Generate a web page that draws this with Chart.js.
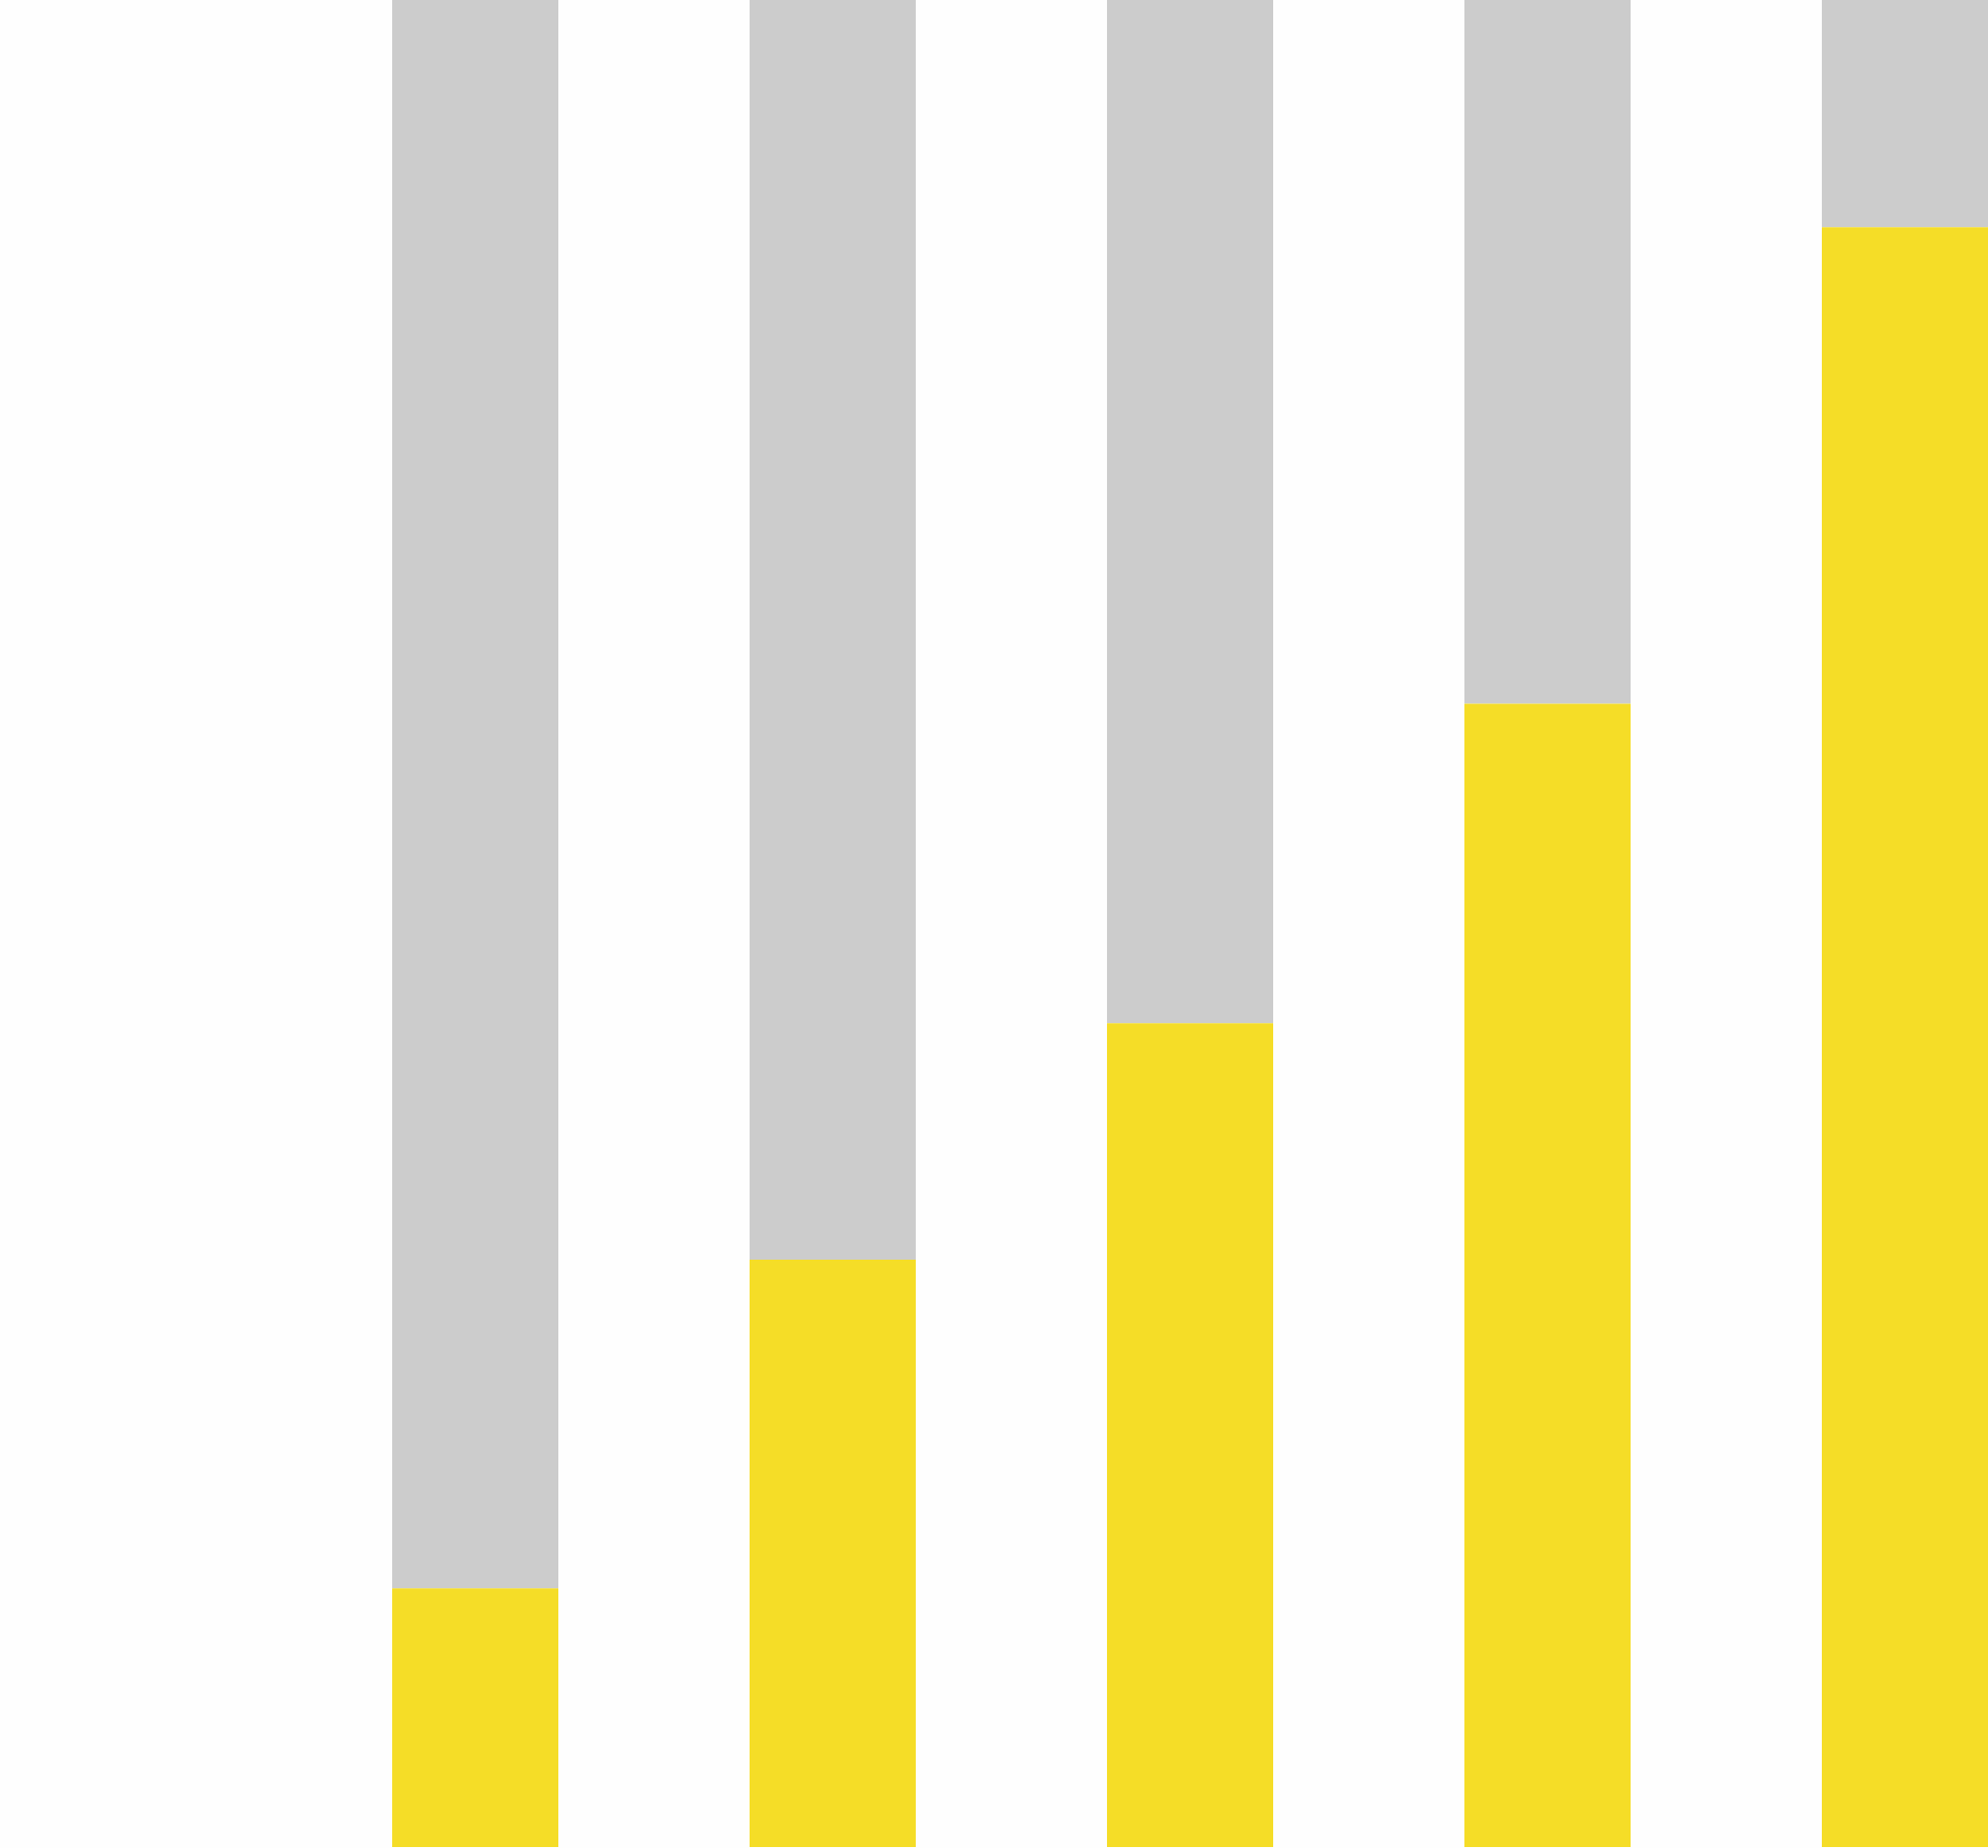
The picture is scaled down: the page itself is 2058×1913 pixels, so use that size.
<!DOCTYPE html>
<html>
<head>
<meta charset="utf-8">
<script src="https://cdn.jsdelivr.net/npm/chart.js@4/dist/chart.umd.min.js"></script>
<style>
  html, body { margin: 0; padding: 0; background: #fefefe; overflow: hidden; }
  canvas { display: block; }
</style>
</head>
<body>
<canvas id="barrasChart" width="2160" height="1913"></canvas>
<script>
const categorias = ["A", "B", "C", "D", "E"];
const valoresAmarelo = [14.0, 31.8, 44.6, 61.9, 87.7];
const valoresCinza = [86.0, 68.2, 55.4, 38.1, 12.3];

const ctx = document.getElementById("barrasChart");

new Chart(ctx.getContext("2d"), {
  type: "bar",
  data: {
    labels: categorias,
    datasets: [
      {
        data: valoresAmarelo,
        backgroundColor: "rgb(245, 221, 39)",
        borderWidth: 0,
        barPercentage: 0.465,
        categoryPercentage: 1,
      },
      {
        data: valoresCinza,
        backgroundColor: "#cccccc",
        borderWidth: 0,
        barPercentage: 0.465,
        categoryPercentage: 1,
      },
    ],
  },
  options: {
    responsive: false,
    animation: false,
    devicePixelRatio: 1,
    layout: {
      padding: { left: 307, right: 3, top: 0, bottom: 1 },
    },
    scales: {
      x: { stacked: true, display: false },
      y: { stacked: true, display: false, min: 0, max: 100 },
    },
    plugins: {
      legend: { display: false },
      tooltip: { enabled: false },
    },
  },
});
</script>
</body>
</html>
